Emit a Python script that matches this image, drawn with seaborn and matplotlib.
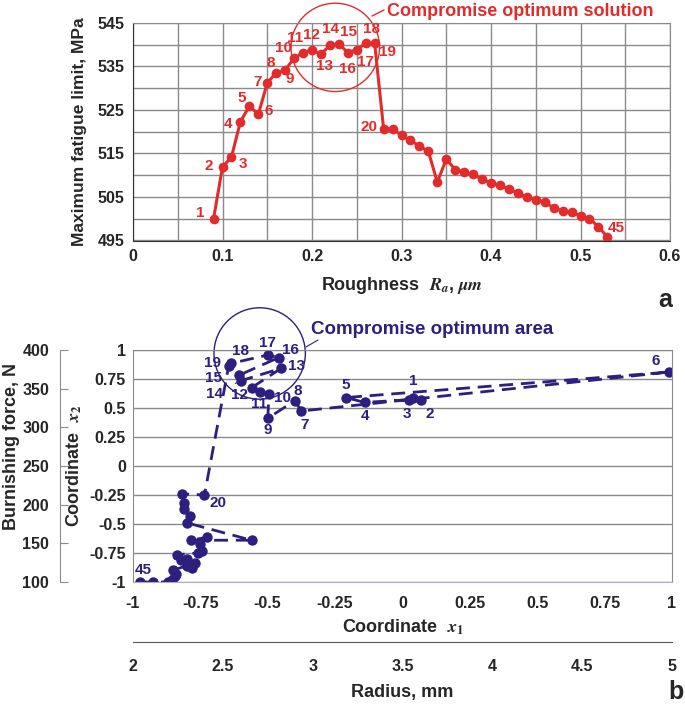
import matplotlib
matplotlib.use("Agg")
import matplotlib.pyplot as plt
import seaborn as sns
import pandas as pd
from matplotlib.patches import Ellipse

# ---- panel a : fatigue limit vs roughness ----
roughness = [0.09, 0.10, 0.11, 0.12, 0.13, 0.14, 0.15, 0.16, 0.17, 0.18,
             0.19, 0.20, 0.21, 0.22, 0.23, 0.24, 0.25, 0.26, 0.27, 0.28,
             0.29, 0.30, 0.31, 0.32, 0.33, 0.34, 0.35, 0.36, 0.37, 0.38,
             0.39, 0.40, 0.41, 0.42, 0.43, 0.44, 0.45, 0.46, 0.47, 0.48,
             0.49, 0.50, 0.51, 0.52, 0.53]
fatigue = [500.0, 511.9, 514.2, 522.3, 525.9, 524.0, 531.2, 533.6, 534.2, 536.9,
           538.2, 538.8, 537.8, 539.9, 540.2, 538.2, 538.9, 540.3, 540.3, 520.7,
           520.7, 519.2, 518.0, 516.7, 515.5, 508.4, 513.7, 511.3, 510.7, 510.2,
           509.1, 508.2, 507.7, 506.8, 505.9, 505.0, 504.4, 503.8, 502.5, 501.8,
           501.5, 500.7, 500.0, 498.2, 495.8]

# ---- panel b : coded coordinates of the same solutions ----
coord_x1 = [0.04, 0.07, 0.025, -0.14, -0.21, 0.99, -0.375, -0.40, -0.50, -0.495,
            -0.53, -0.56, -0.45, -0.60, -0.605, -0.46, -0.50, -0.635, -0.645, -0.735,
            -0.82, -0.812, -0.812, -0.79, -0.80, -0.56, -0.785, -0.727, -0.75, -0.745,
            -0.76, -0.838, -0.80, -0.77, -0.822, -0.78, -0.80, -0.85, -0.84, -0.845,
            -0.856, -0.86, -0.87, -0.925, -0.975]
coord_x2 = [0.586, 0.569, 0.572, 0.548, 0.59, 0.81, 0.474, 0.563, 0.411, 0.621,
            0.641, 0.675, 0.842, 0.735, 0.784, 0.934, 0.957, 0.885, 0.862, -0.25,
            -0.24, -0.32, -0.37, -0.43, -0.49, -0.64, -0.64, -0.615, -0.67, -0.73,
            -0.75, -0.765, -0.80, -0.84, -0.81, -0.88, -0.86, -0.897, -0.93, -0.95,
            -0.98, -0.995, -1.0, -1.0, -1.0]
point_id = list(range(1, 46))

# label offsets (pixels) for the numbered points
offs_a = {1: (-13, 6), 2: (-14, 1), 3: (11, -7), 4: (-12, -2), 5: (-8, 8),
          6: (10, 3), 7: (-10, 1), 8: (-5, 10), 9: (5, -9), 10: (-11, 10),
          11: (-8, 15), 12: (-1, 15), 13: (4, -12), 14: (1, 16), 15: (10, 12),
          16: (0, -16), 17: (9, -12), 18: (6, 14), 19: (13, -9), 20: (-15, 2),
          45: (9, 9)}
offs_b = {1: (0, 17), 2: (8, -14), 3: (-2, -14), 4: (0, -14), 5: (0, 13),
          6: (-14, 11), 7: (3, -14), 8: (3, 10), 9: (0, -12), 10: (13, -4),
          11: (-1, -12), 12: (-12, -7), 13: (15, 2), 14: (-26, -13), 15: (-26, -3),
          16: (12, 8), 17: (0, 12), 18: (9, 12), 19: (-16, 3), 20: (14, -8),
          45: (4, 12)}

red = "#E32B2B"
navy = "#2C1F80"
grid_c = "#8a8a8a"

sns.set_style("white")
plt.rcParams["font.family"] = ["Liberation Sans", "DejaVu Sans"]
plt.rcParams["font.weight"] = "bold"
plt.rcParams["axes.labelweight"] = "bold"
plt.rcParams["mathtext.fontset"] = "stix"

W, H = 685, 705
fig = plt.figure(figsize=(W / 100, H / 100), dpi=100)


def fx(px):
    return px / W


def fy(py):
    return 1 - py / H


def bold_ticks(axis):
    for lbl in axis.get_xticklabels() + axis.get_yticklabels():
        lbl.set_fontweight("bold")


# ---------------- top panel ----------------
ax1 = fig.add_axes([fx(133), fy(240.5), fx(670) - fx(133), fy(23) - fy(240.5)])
df_a = pd.DataFrame({"ra": roughness, "sigma": fatigue, "n": point_id})
sns.lineplot(data=df_a, x="ra", y="sigma", sort=False, estimator=None, ax=ax1,
             color=red, lw=2.2, marker="o", markersize=7, markeredgewidth=0)
ax1.set_xlim(0, 0.6)
ax1.set_ylim(495, 545)
ax1.set_xticks([0, 0.1, 0.2, 0.3, 0.4, 0.5, 0.6])
ax1.set_xticklabels(["0", "0.1", "0.2", "0.3", "0.4", "0.5", "0.6"])
ax1.set_xticks([0.05, 0.15, 0.25, 0.35, 0.45, 0.55], minor=True)
ax1.set_yticks([495, 505, 515, 525, 535, 545])
ax1.set_yticks([500, 510, 520, 530, 540], minor=True)
ax1.grid(True, which="both", color=grid_c, lw=1)
ax1.tick_params(which="both", length=0, labelsize=11.5, pad=6)
bold_ticks(ax1)
for s in ax1.spines.values():
    s.set_color(grid_c)
ax1.spines["left"].set_color("#333333")
ax1.spines["bottom"].set_color("#333333")
ax1.set_xlabel(r"Roughness  $R_a$, $\mu m$", fontsize=13, labelpad=8)
ax1.set_ylabel("Maximum fatigue limit, MPa", fontsize=12.5, labelpad=8)
for n, (dx, dy) in offs_a.items():
    ax1.annotate(str(n), (roughness[n - 1], fatigue[n - 1]), xytext=(dx, dy),
                 textcoords="offset pixels", ha="center", va="center",
                 color=red, fontsize=11, fontweight="bold")
ax1.add_patch(Ellipse((0.226, 539.4), 0.0989, 20.3, fill=False, ec=red, lw=1,
                      clip_on=False))
fig.add_artist(plt.Line2D([fx(372), fx(384)], [fy(16), fy(10)], color=red, lw=1))
fig.text(fx(387), fy(11), "Compromise optimum solution", color=red,
         fontsize=13, fontweight="bold", ha="left", va="center")
fig.text(fx(665), fy(300), "a", fontsize=18, fontweight="bold", ha="center", va="center")

# ---------------- bottom panel ----------------
ax2 = fig.add_axes([fx(133), fy(582), fx(672) - fx(133), fy(350) - fy(582)])
df_b = pd.DataFrame({"x1": coord_x1, "x2": coord_x2, "n": point_id})
sns.lineplot(data=df_b, x="x1", y="x2", sort=False, estimator=None, ax=ax2,
             color=navy, lw=2, linestyle=(0, (5, 2.8)), marker="o", markersize=7.5,
             markeredgewidth=0)
ax2.set_xlim(-1, 1)
ax2.set_ylim(-1, 1)
ticks = [-1, -0.75, -0.5, -0.25, 0, 0.25, 0.5, 0.75, 1]
tick_txt = ["-1", "-0.75", "-0.5", "-0.25", "0", "0.25", "0.5", "0.75", "1"]
ax2.set_xticks(ticks)
ax2.set_xticklabels(tick_txt)
ax2.set_yticks(ticks)
ax2.set_yticklabels(tick_txt)
ax2.grid(True, axis="y", color=grid_c, lw=1)
ax2.tick_params(axis="y", length=0, labelsize=11.5, pad=5)
ax2.tick_params(axis="x", length=5, color=grid_c, labelsize=11.5, pad=5)
bold_ticks(ax2)
for s in ax2.spines.values():
    s.set_color(grid_c)
ax2.spines["bottom"].set_color("#a9aec9")
ax2.set_xlabel(r"Coordinate  $x_1$", fontsize=13, labelpad=5)
ax2.set_ylabel(r"Coordinate  $x_2$", fontsize=13, labelpad=4)
for n, (dx, dy) in offs_b.items():
    lead = None
    if n in (14, 15, 18):
        lead = dict(arrowstyle="-", color=navy, lw=0.7, shrinkA=7, shrinkB=3)
    ax2.annotate(str(n), (coord_x1[n - 1], coord_x2[n - 1]), xytext=(dx, dy),
                 textcoords="offset pixels", ha="center", va="center",
                 color=navy, fontsize=11, fontweight="bold", arrowprops=lead)
ax2.add_patch(Ellipse((-0.53, 0.97), 0.339, 0.788, fill=False, ec=navy, lw=1,
                      clip_on=False))
fig.add_artist(plt.Line2D([fx(306), fx(318)], [fy(347), fy(340)], color=navy, lw=0.8))
fig.text(fx(311), fy(330), "Compromise optimum area", color=navy,
         fontsize=13.5, fontweight="bold", ha="left", va="center")

# burnishing force axis (left, outside)
force = ax2.secondary_yaxis(-0.135, functions=(lambda v: 250 + 150 * v,
                                                lambda f: (f - 250) / 150))
force.set_yticks([100, 150, 200, 250, 300, 350, 400])
force.set_yticklabels(["100", "150", "200", "250", "300", "350", "400"],
                      fontweight="bold")
force.tick_params(direction="in", length=6, color=grid_c, labelsize=11.5, pad=8)
force.spines["left"].set_color(grid_c)
fig.text(fx(12), fy(446), "Burnishing force, N", rotation=90, fontsize=13,
         fontweight="bold", ha="center", va="center")

# radius axis (bottom, outside)
radius = ax2.secondary_xaxis(-0.259, functions=(lambda v: 3.5 + 1.5 * v,
                                                 lambda r: (r - 3.5) / 1.5))
radius.set_xticks([2, 2.5, 3, 3.5, 4, 4.5, 5])
radius.set_xticklabels(["2", "2.5", "3", "3.5", "4", "4.5", "5"], fontweight="bold")
radius.tick_params(length=0, labelsize=11.5, pad=12)
radius.spines["bottom"].set_color("#555555")
fig.text(fx(402), fy(692), "Radius, mm", fontsize=13, fontweight="bold",
         ha="center", va="center")
fig.text(fx(676), fy(692), "b", fontsize=18, fontweight="bold", ha="center", va="center")

fig.savefig("out.png", dpi=100)
